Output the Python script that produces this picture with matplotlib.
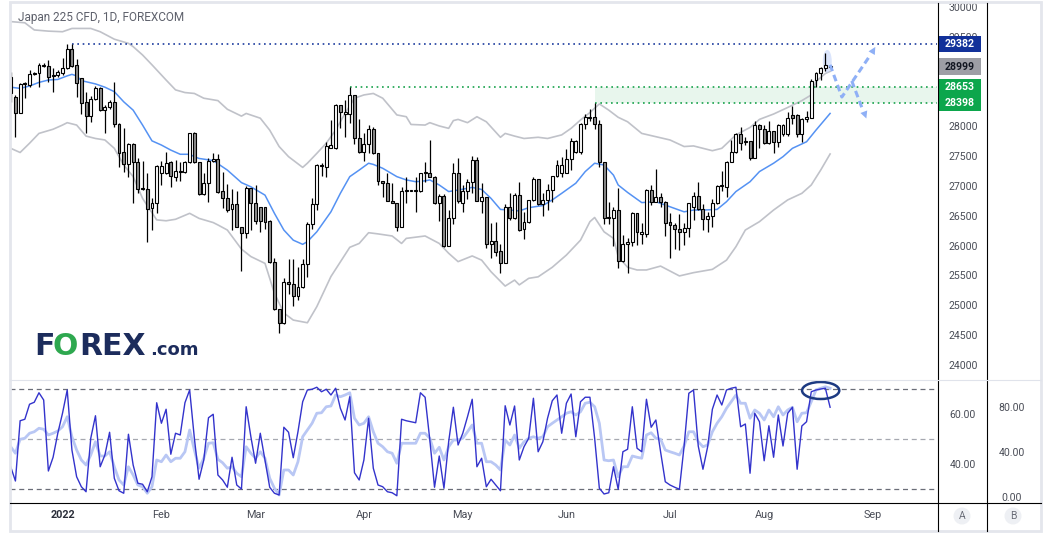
import numpy as np
import matplotlib.pyplot as plt
from matplotlib.patches import Rectangle, Ellipse
from matplotlib.lines import Line2D

plt.rcParams['font.family'] = ['Roboto', 'DejaVu Sans']

# daily bars, 17 Dec 2021 .. 19 Aug 2022 (bar index 0..174)
opens = [28830, 28495, 28230, 28720, 28690, 28890, 28885, 29010, 29010, 28850,
         28855, 28885, 28970, 29290, 29025, 28805, 28410, 28170, 28450, 28635,
         28270, 28315, 28410, 28030, 27565, 27360, 27695, 27395, 26955, 26940,
         26625, 26705, 27210, 27210, 27395, 27155, 27250, 27240, 27405, 27880,
         27395, 26860, 27045, 27415, 27445, 26915, 26790, 26605, 26695, 26315,
         26205, 26960, 26720, 26640, 26640, 26410, 25720, 24930, 24705, 25395,
         25350, 25160, 25300, 25685, 26355, 26695, 27340, 27310, 27640, 27630,
         28355, 28205, 28200, 28525, 27795, 27575, 27695, 27955, 27545, 27080,
         27045, 26750, 26705, 26315, 26920, 26920, 26920, 26920, 27220, 27210,
         27145, 26705, 26830, 25995, 26455, 27210, 26705, 26915, 27060, 27435,
         26750, 26810, 26020, 26075, 25910, 25700, 26640, 26465, 26845, 26270,
         26390, 26765, 27115, 26690, 26765, 26930, 27165, 27210, 27210, 27450,
         27565, 27565, 28030, 28150, 28150, 28030, 27395, 26465, 26465, 26595,
         25740, 26020, 26055, 26550, 26195, 26195, 26930, 26735, 26810, 26735,
         26390, 26345, 26270, 26230, 26290, 26640, 26830, 26605, 26440, 26495,
         26705, 27000, 26975, 27395, 27565, 27870, 27740, 27755, 27475, 28020,
         27950, 27715, 27920, 27740, 27870, 27870, 28190, 28190, 27870, 28115,
         28145, 28775, 28885, 28970, 29015]
highs = [28915, 28525, 28730, 28750, 28945, 28915, 29065, 29055, 29110, 28970,
         28945, 29140, 29380, 29382, 29120, 28805, 28580, 28505, 28675, 28665,
         28355, 28440, 28735, 28050, 27965, 27715, 27715, 27460, 27415, 27210,
         26790, 27350, 27425, 27575, 27425, 27435, 27395, 27425, 27880, 27905,
         27405, 27210, 27460, 27555, 27535, 27240, 27030, 26940, 26915, 26315,
         27000, 26960, 27015, 26640, 26650, 26430, 25785, 24930, 25450, 25770,
         25770, 25645, 25770, 26390, 26790, 27365, 27380, 27740, 28105, 28375,
         28355, 28440, 28653, 28525, 28115, 27880, 28020, 27980, 27555, 27085,
         27210, 27045, 26720, 26985, 27155, 26925, 27155, 27220, 27395, 27770,
         27165, 26865, 26865, 26595, 27380, 27460, 27015, 27110, 27500, 27490,
         27045, 26820, 26385, 26390, 26020, 26695, 26875, 26875, 27060, 26560,
         26765, 27155, 27115, 26875, 27030, 27165, 27435, 27490, 27620, 27810,
         27770, 28050, 28200, 28285, 28398, 28105, 27395, 26735, 26650, 26960,
         26175, 26120, 26565, 26550, 26385, 26940, 27015, 27275, 26875, 26750,
         26540, 26385, 26530, 26370, 26720, 26890, 27060, 26695, 26565, 26775,
         27015, 27250, 27415, 27770, 27890, 27995, 27825, 27755, 28095, 28040,
         28020, 28095, 27920, 28030, 28040, 28245, 28340, 28200, 28135, 28260,
         28785, 28905, 28990, 29235, 29030]
lows = [28410, 27815, 28215, 28470, 28665, 28860, 28665, 28990, 28735, 28580,
        28830, 28860, 28955, 29000, 28495, 28205, 27890, 28075, 28440, 28260,
        27890, 28285, 27995, 27320, 27240, 27155, 26720, 26875, 26930, 26055,
        26260, 26540, 27015, 27200, 26975, 27085, 27085, 27220, 27390, 27390,
        26845, 26845, 26735, 27405, 26875, 26625, 26565, 26260, 26305, 25580,
        26120, 26260, 26360, 26220, 26275, 25700, 24920, 24525, 24685, 25185,
        24985, 25085, 25280, 25465, 26275, 26595, 27170, 27145, 27630, 27620,
        27965, 27825, 28050, 27695, 27545, 27415, 27545, 27535, 27015, 26810,
        26750, 26705, 26250, 26305, 26705, 26915, 26565, 26905, 27070, 27145,
        26695, 26415, 25980, 25990, 26360, 26705, 26565, 26775, 26875, 26750,
        26550, 25955, 25785, 25830, 25545, 25700, 26430, 26445, 26250, 26105,
        26370, 26750, 26680, 26500, 26595, 26735, 27155, 27145, 27210, 27265,
        27545, 27535, 27955, 28095, 27955, 27320, 26360, 26355, 25995, 25615,
        25730, 25535, 25990, 26010, 26020, 26150, 26680, 26725, 26640, 26165,
        25795, 25940, 25925, 26010, 26150, 26430, 26595, 26260, 26230, 26315,
        26695, 26920, 26810, 27395, 27545, 27600, 27685, 27435, 27475, 27630,
        27700, 27700, 27545, 27645, 27835, 27835, 28040, 27825, 27740, 28075,
        28135, 28655, 28775, 28930, 28990]
closes = [28550, 28230, 28710, 28715, 28870, 28885, 29025, 29015, 28830, 28840,
          28905, 28970, 29290, 29010, 28720, 28395, 28170, 28450, 28635, 28270,
          28315, 28410, 28030, 27555, 27360, 27695, 27395, 26950, 26950, 26610,
          26705, 27335, 27335, 27390, 27165, 27255, 27245, 27395, 27880, 27405,
          26860, 27045, 27415, 27445, 26905, 26790, 26595, 26695, 26315, 26205,
          26960, 26720, 26415, 26415, 26400, 25720, 24930, 24705, 25395, 25350,
          25160, 25300, 25690, 26355, 26695, 27350, 27335, 27675, 27685, 28355,
          28235, 28235, 28525, 27795, 27575, 27695, 27955, 27545, 27080, 27045,
          26750, 26705, 26315, 26920, 26925, 26920, 26925, 27220, 27225, 27145,
          26705, 26830, 25990, 26455, 27210, 26750, 26915, 27060, 27435, 26745,
          26810, 26020, 26075, 25895, 25700, 26640, 26465, 26845, 26260, 26390,
          26765, 27115, 26690, 26765, 26930, 27165, 27350, 27350, 27450, 27755,
          27755, 28030, 28150, 28150, 28030, 27395, 26455, 26470, 26595, 25740,
          26020, 26055, 26550, 26220, 26230, 26930, 26735, 26810, 26735, 26385,
          26345, 26270, 26230, 26290, 26705, 26830, 26605, 26440, 26495, 26705,
          27005, 27005, 27405, 27565, 27870, 27715, 27740, 27475, 28020, 27950,
          27715, 27920, 27740, 28020, 28020, 28135, 28135, 27870, 28120, 28150,
          28765, 28885, 28970, 29025, 28999]

# bollinger bands (at the bar index given)
upper_x = [0, 3, 5, 8, 11, 13, 17, 19, 22, 25, 26, 28, 30, 33, 35, 37, 39, 41, 44, 46,
           49, 50, 53, 55, 57, 59, 62, 63, 65, 67, 69, 71, 73, 75, 77, 79, 82, 84, 85, 88,
           89, 91, 93, 94, 95, 97, 99, 101, 104, 105, 107, 109, 112, 114, 117, 119, 121, 123, 125, 127,
           129, 131, 134, 137, 140, 143, 145, 147, 149, 151, 154, 157, 159, 162, 165, 168, 170, 171, 173, 174]
upper = [29755, 29735, 29615, 29595, 29585, 29640, 29640, 29585, 29460, 29390,
         29335, 29195, 29030, 28775, 28610, 28565, 28550, 28470, 28430, 28285,
         28170, 28215, 28135, 27935, 27660, 27490, 27310, 27380, 27545, 27715,
         27935, 28215, 28470, 28525, 28550, 28470, 28190, 28160, 28030, 28020,
         28060, 28005, 27965, 28095, 28115, 28060, 28160, 28075, 27815, 27880,
         27835, 27795, 27815, 27795, 27855, 27965, 28105, 28230, 28375, 28270,
         28150, 28075, 27880, 27825, 27770, 27660, 27670, 27630, 27590, 27630,
         27855, 27980, 28115, 28205, 28315, 28430, 28525, 28750, 28885, 28920]
lower_x = [0, 2, 4, 6, 9, 11, 12, 14, 16, 18, 20, 22, 24, 26, 28, 31, 33, 35, 38, 40,
           43, 44, 46, 49, 51, 54, 56, 58, 60, 63, 65, 68, 72, 74, 76, 78, 81, 83, 84, 88,
           91, 93, 95, 98, 100, 102, 105, 107, 108, 110, 112, 115, 118, 121, 123, 124, 126, 128, 129, 131,
           133, 135, 138, 142, 145, 149, 152, 154, 156, 159, 162, 165, 168, 170, 172, 174]
lower = [27630, 27560, 27715, 27880, 27950, 28020, 28060, 28020, 27835, 27795,
         27770, 27630, 27350, 27155, 26790, 26430, 26415, 26440, 26540, 26455,
         26385, 26345, 26260, 25940, 25815, 25700, 25200, 24870, 24750, 24705,
         24975, 25480, 25970, 26035, 26215, 26195, 26160, 26035, 26120, 26160,
         26035, 25870, 25730, 25825, 25755, 25560, 25320, 25420, 25340, 25450,
         25475, 25635, 25840, 26090, 26400, 26470, 26230, 26120, 25815, 25635,
         25590, 25590, 25655, 25490, 25545, 25600, 25755, 25980, 26260, 26400,
         26595, 26765, 26875, 27015, 27265, 27535]
basis_x = [0, 2, 4, 6, 8, 10, 12, 13, 14, 15, 18, 20, 22, 24, 26, 28, 30, 32, 34, 36,
           38, 39, 40, 43, 46, 49, 51, 54, 56, 58, 60, 62, 63, 65, 68, 70, 72, 74, 76, 77,
           79, 82, 84, 86, 88, 89, 91, 93, 95, 98, 100, 102, 104, 106, 108, 110, 113, 115, 117, 120,
           122, 124, 126, 128, 129, 131, 134, 137, 140, 143, 145, 147, 150, 152, 154, 157, 159, 162, 164, 166,
           169, 171, 174]
basis = [28655, 28635, 28675, 28735, 28775, 28785, 28845, 28870, 28845, 28765,
         28710, 28655, 28580, 28410, 28270, 28020, 27755, 27685, 27600, 27530,
         27530, 27490, 27460, 27425, 27265, 27055, 26985, 26845, 26540, 26260,
         26090, 26020, 26065, 26230, 26565, 26875, 27155, 27265, 27380, 27360,
         27295, 27155, 27100, 27070, 27085, 27100, 27015, 26905, 26930, 26975,
         26940, 26790, 26605, 26595, 26580, 26635, 26670, 26765, 26875, 27045,
         27240, 27380, 27350, 27180, 27015, 26890, 26720, 26735, 26650, 26565,
         26595, 26595, 26605, 26735, 26905, 27070, 27240, 27380, 27490, 27630,
         27740, 27935, 28215]

# oscillator, fast and slow line (left scale "A")
k_line = [38.9, 33.2, 57.3, 57.9, 63.9, 64.7, 68.5, 65.6, 37.2, 42.7,
          52.3, 60.3, 69.6, 45.6, 34.9, 30.9, 28.9, 50.3, 59.3, 38.9,
          43.6, 52.7, 34.3, 29.3, 28.3, 51.9, 39.6, 32.3, 31.9, 28.9,
          34.9, 64.5, 56.3, 61.9, 43.9, 52.3, 51.6, 64.5, 69.6, 50.3,
          33.9, 41.6, 58.5, 59.9, 35.6, 33.6, 30.7, 42.7, 31.6, 30.0,
          62.9, 50.9, 40.3, 52.3, 41.6, 30.7, 28.3, 27.6, 54.7, 52.7,
          42.5, 52.9, 64.9, 69.6, 69.9, 70.7, 68.9, 69.9, 67.6, 70.3,
          62.3, 57.6, 66.9, 36.5, 33.6, 41.6, 58.3, 38.3, 31.6, 30.9,
          28.9, 28.5, 27.3, 57.9, 57.3, 56.9, 56.5, 68.5, 66.7, 49.6,
          30.7, 43.2, 30.3, 48.9, 62.7, 47.6, 52.3, 58.9, 65.9, 38.9,
          42.3, 30.9, 33.9, 31.6, 29.3, 63.3, 55.6, 63.2, 41.6, 46.9,
          50.3, 66.3, 44.9, 48.9, 58.3, 65.3, 67.6, 52.3, 64.3, 68.0,
          50.9, 64.9, 66.7, 66.7, 50.3, 30.3, 28.0, 28.5, 38.9, 29.9,
          44.9, 45.9, 62.9, 46.3, 44.9, 65.9, 54.7, 57.6, 44.9, 32.9,
          31.6, 30.7, 29.9, 47.2, 68.3, 69.6, 47.2, 37.9, 46.9, 61.9,
          67.6, 63.6, 69.6, 70.3, 70.7, 54.9, 56.0, 36.3, 60.3, 56.9,
          41.3, 55.3, 42.7, 59.6, 47.2, 60.3, 62.7, 37.9, 55.2, 56.9,
          68.9, 69.6, 70.0, 70.3, 62.7]
d_line = [46.9, 44.3, 49.9, 50.3, 52.3, 52.9, 54.3, 53.9, 51.6, 52.3,
          53.2, 54.9, 58.9, 50.9, 45.6, 41.6, 39.6, 43.6, 48.9, 43.2,
          43.2, 44.9, 38.9, 33.6, 31.6, 38.9, 35.6, 31.6, 30.9, 28.3,
          30.9, 41.6, 40.9, 43.6, 40.9, 42.3, 42.3, 44.9, 53.6, 45.6,
          38.3, 42.3, 48.3, 48.5, 41.9, 40.5, 38.3, 38.9, 36.3, 34.9,
          46.9, 44.3, 42.3, 44.9, 42.3, 34.3, 30.3, 27.6, 37.6, 37.6,
          35.6, 40.9, 50.9, 53.6, 56.3, 60.3, 60.5, 62.9, 63.2, 67.6,
          66.9, 67.6, 68.5, 58.3, 55.6, 56.3, 58.9, 52.9, 48.3, 46.9,
          44.9, 44.3, 40.3, 48.3, 48.3, 48.3, 48.3, 52.3, 52.3, 50.3,
          44.3, 46.7, 41.6, 46.9, 49.6, 49.6, 50.3, 52.9, 55.6, 48.3,
          48.3, 40.9, 40.9, 39.6, 37.6, 49.6, 47.6, 51.6, 46.3, 48.9,
          50.3, 50.9, 50.3, 50.9, 54.9, 56.3, 57.6, 58.9, 60.3, 60.9,
          59.6, 60.9, 64.3, 64.7, 62.9, 56.3, 41.6, 41.3, 41.6, 34.9,
          38.9, 38.9, 43.2, 42.7, 42.3, 51.6, 52.5, 50.3, 49.9, 45.6,
          44.9, 44.3, 43.6, 47.2, 52.9, 52.9, 48.9, 46.9, 47.6, 52.9,
          56.3, 58.9, 62.3, 64.9, 67.6, 64.3, 64.3, 58.3, 61.6, 60.3,
          57.6, 61.6, 58.9, 62.9, 59.6, 61.6, 62.7, 56.9, 60.3, 60.5,
          64.9, 69.6, 70.3, 70.9, 70.3]

month_pos = [11, 32, 52, 75, 96, 118, 140, 160, 183]
month_names = ['2022', 'Feb', 'Mar', 'Apr', 'May', 'Jun', 'Jul', 'Aug', 'Sep']

# price scale labels (29000 and 28500 sit under the value boxes)
price_ticks = [24000, 24500, 25000, 25500, 26000, 26500, 27000, 27500, 28000, 29500, 30000]

high_line = 29382      # Jan high, from bar 13
zone_top = 28653       # Mar high, from bar 72
zone_bottom = 28398    # Jun high, from bar 124
last_price = 28999

W, H = 1051, 535
fig = plt.figure(figsize=(W / 100, H / 100), dpi=100)


def fx(px):
    return px / W


def fy(py):
    return 1 - py / H


X0, X1 = -0.15, 196.7
ax = fig.add_axes([fx(10), fy(380), fx(937) - fx(10), fy(4) - fy(380)])
osc = fig.add_axes([fx(10), fy(503), fx(937) - fx(10), fy(380) - fy(503)])
osc_b = osc.twinx()
for a in (ax, osc, osc_b):
    a.set_xlim(X0, X1)
    a.set_frame_on(False)
ax.set_ylim(23745, 30050)
osc.set_ylim(24.4, 73.6)
osc_b.set_ylim(-5.3, 104)

# candles
x = np.arange(len(closes))
o = np.array(opens, float)
c = np.array(closes, float)
rising = c >= o
bot = np.minimum(o, c)
hgt = np.abs(c - o)
flat = hgt < 14
bot = np.where(flat, (o + c) / 2 - 7, bot)
hgt = np.where(flat, 14, hgt)
ax.vlines(x, lows, highs, color='black', lw=0.9, zorder=3)
ax.bar(x, hgt, bottom=bot, width=0.62, color=np.where(rising, 'white', '#8c8c8c'),
       edgecolor='black', linewidth=0.8, zorder=4)

# bands
ax.plot(upper_x, upper, color='#c0c2c9', lw=1.2, zorder=2)
ax.plot(lower_x, lower, color='#c0c2c9', lw=1.2, zorder=2)
ax.plot(basis_x, basis, color='#5592f3', lw=1.1, zorder=2)

# levels
ax.fill_between([124, X1], zone_bottom, zone_top, color='#e8f6ed', lw=0, zorder=1)
ax.hlines(high_line, 13, X1, colors='#1c3c9e', linestyles=(0, (1, 2.2)), lw=1.2, zorder=2)
ax.hlines(zone_top, 72, X1, colors='#18a24c', linestyles=(0, (1, 2.2)), lw=1.2, zorder=2)
ax.hlines(zone_bottom, 124, X1, colors='#18a24c', linestyles=(0, (1, 2.2)), lw=1.2, zorder=2)

# scenario arrows
arrow_c = '#8fb0f6'
ax.add_patch(Ellipse((173.4, 29090), 1.9, 380, color='#c3d4fa', alpha=0.6, lw=0, zorder=2))
ax.plot([174, 176.5, 182.6], [29030, 28490, 29200], color=arrow_c, lw=2.2,
        ls=(0, (2.2, 1.3)), zorder=5)
ax.plot([178.6, 181.0], [28760, 28260], color=arrow_c, lw=2.2,
        ls=(0, (2.2, 1.3)), zorder=5)
arrow_kw = dict(arrowstyle='-|>', color=arrow_c, lw=0, mutation_scale=13, shrinkA=0, shrinkB=0)
ax.annotate('', xy=(183.6, 29330), xytext=(182.2, 29140), arrowprops=arrow_kw, zorder=5)
ax.annotate('', xy=(181.7, 28130), xytext=(180.8, 28320), arrowprops=arrow_kw, zorder=5)

# price scale
ax.yaxis.tick_right()
ax.set_yticks(price_ticks)
ax.set_yticklabels([str(t) for t in price_ticks], ha='center')
ax.tick_params(axis='y', length=0, pad=18.7, labelsize=7.6, labelcolor='#4a4d57')
ax.set_xticks([])

tr = ax.get_yaxis_transform()
bx0, bw, bxc = (938 - 10) / 927, (981 - 938) / 927, (959.5 - 10) / 927


def price_box(lo, hi, face):
    ax.add_patch(Rectangle((bx0, lo), bw, hi - lo, transform=tr, facecolor=face,
                           edgecolor='none', clip_on=False, zorder=6))


def price_text(val, color):
    ax.text(bxc, val, str(val), transform=tr, ha='center', va='center', color=color,
            fontsize=7.6, fontweight='bold', zorder=7, clip_on=False)


price_box(high_line - 145, high_line + 135, '#12319a')
price_text(high_line, 'white')
price_box(last_price - 145, last_price + 140, '#9d9ea5')
price_text(last_price, '#131722')
price_box(zone_bottom - 140, zone_top + 140, '#0ca64c')
price_text(zone_top, 'white')
price_text(zone_bottom, 'white')

# oscillator pane
dash = (0, (4, 3))
osc.axhline(70, color='#6b6e78', lw=0.9, ls=dash)
osc.axhline(50, color='#a6a8b0', lw=0.9, ls=dash)
osc.axhline(30, color='#6b6e78', lw=0.9, ls=dash)
osc.plot(x, d_line, color='#b9c7f4', lw=2.0)
osc.plot(x, k_line, color='#3333cc', lw=1.0)
osc.add_patch(Ellipse((172, 69.4), 7.9, 6.8, fill=False, edgecolor='#1d3a82', lw=1.8, zorder=5))

osc.yaxis.tick_right()
osc.set_yticks([40, 60])
osc.set_yticklabels(['40.00', '60.00'], ha='center')
osc.tick_params(axis='y', left=False, right=True, labelleft=False, labelright=True,
                length=0, pad=18.7, labelsize=7.6, labelcolor='#4a4d57')

osc_b.set_yticks([0, 40, 80])
osc_b.set_yticklabels(['0.00', '40.00', '80.00'], ha='center')
osc_b.tick_params(axis='y', length=0, pad=54, labelsize=7.6, labelcolor='#4a4d57')

osc.set_xticks(month_pos)
osc.set_xticklabels(month_names)
osc.tick_params(axis='x', length=0, pad=5, labelsize=7.8, labelcolor='#4a4d57')
osc.get_xticklabels()[0].set_fontweight('bold')
osc.get_xticklabels()[0].set_color('#2a2e39')


# frame and separators
def fline(x0, y0, x1, y1, color, lw=0.8):
    fig.add_artist(Line2D([fx(x0), fx(x1)], [fy(y0), fy(y1)], color=color, lw=lw,
                          transform=fig.transFigure))


fline(938, 3, 938, 531, 'black')
fline(987, 3, 987, 531, 'black')
fline(10, 503, 1041, 503, 'black')
fline(10, 380, 1041, 380, '#e0e3eb')
fig.add_artist(Rectangle((fx(9.5), fy(531)), fx(1041) - fx(9.5), fy(2) - fy(531), fill=False,
                         edgecolor='#e4e6ec', lw=2.0, transform=fig.transFigure))

for px, letter in [(962, 'A'), (1013, 'B')]:
    fig.add_artist(Ellipse((fx(px), fy(516)), 17 / W, 17 / H, facecolor='#eef0f4',
                           edgecolor='none', transform=fig.transFigure))
    fig.text(fx(px), fy(516), letter, ha='center', va='center', fontsize=7.5, color='#6a6d78')

fig.text(fx(18), fy(18), 'Japan 225 CFD, 1D, FOREXCOM', fontsize=8.5, color='#5d606b', va='center')

# logo
navy, green = '#1c2c5c', '#2ea84f'
logo_kw = dict(fontsize=21.5, fontweight='bold', va='baseline', family='DejaVu Sans')
fig.text(fx(34), fy(355), 'F', color=navy, **logo_kw)
fig.text(fx(53), fy(355), 'O', color=green, **logo_kw)
fig.text(fx(79), fy(355), 'REX', color=navy, **logo_kw)
fig.text(fx(150), fy(355), '.com', color=navy, fontsize=13, fontweight='bold',
         va='baseline', family='DejaVu Sans')

fig.savefig('out.png', dpi=100)
